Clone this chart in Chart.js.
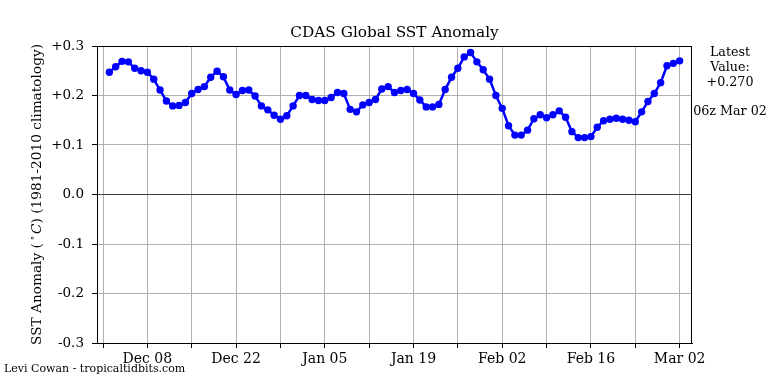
<!DOCTYPE html>
<html>
<head>
<meta charset="utf-8">
<script src="https://cdn.jsdelivr.net/npm/chart.js@4/dist/chart.umd.min.js"></script>
<style>
  html, body { margin: 0; padding: 0; background: #fff; }
</style>
</head>
<body>
<canvas id="sstChart" width="768" height="384"></canvas>
<script>
// daily values, 00z Dec 02 .. Mar 02
const dates = [
  "Dec 02", "Dec 03", "Dec 04", "Dec 05", "Dec 06", "Dec 07", "Dec 08", "Dec 09", "Dec 10", "Dec 11",
  "Dec 12", "Dec 13", "Dec 14", "Dec 15", "Dec 16", "Dec 17", "Dec 18", "Dec 19", "Dec 20", "Dec 21",
  "Dec 22", "Dec 23", "Dec 24", "Dec 25", "Dec 26", "Dec 27", "Dec 28", "Dec 29", "Dec 30", "Dec 31",
  "Jan 01", "Jan 02", "Jan 03", "Jan 04", "Jan 05", "Jan 06", "Jan 07", "Jan 08", "Jan 09", "Jan 10",
  "Jan 11", "Jan 12", "Jan 13", "Jan 14", "Jan 15", "Jan 16", "Jan 17", "Jan 18", "Jan 19", "Jan 20",
  "Jan 21", "Jan 22", "Jan 23", "Jan 24", "Jan 25", "Jan 26", "Jan 27", "Jan 28", "Jan 29", "Jan 30",
  "Jan 31", "Feb 01", "Feb 02", "Feb 03", "Feb 04", "Feb 05", "Feb 06", "Feb 07", "Feb 08", "Feb 09",
  "Feb 10", "Feb 11", "Feb 12", "Feb 13", "Feb 14", "Feb 15", "Feb 16", "Feb 17", "Feb 18", "Feb 19",
  "Feb 20", "Feb 21", "Feb 22", "Feb 23", "Feb 24", "Feb 25", "Feb 26", "Feb 27", "Feb 28", "Mar 01",
  "Mar 02",
];
const anomaly = [
  0.247, 0.258, 0.269, 0.268, 0.255, 0.250, 0.247, 0.233, 0.211, 0.189,
  0.179, 0.180, 0.186, 0.204, 0.212, 0.218, 0.237, 0.249, 0.238, 0.211,
  0.202, 0.210, 0.211, 0.199, 0.179, 0.171, 0.160, 0.152, 0.159, 0.179,
  0.200, 0.200, 0.192, 0.190, 0.190, 0.196, 0.206, 0.204, 0.172, 0.167,
  0.181, 0.186, 0.192, 0.213, 0.218, 0.206, 0.210, 0.212, 0.204, 0.191,
  0.177, 0.177, 0.182, 0.212, 0.237, 0.255, 0.278, 0.287, 0.268, 0.252,
  0.233, 0.200, 0.174, 0.139, 0.120, 0.120, 0.130, 0.153, 0.161, 0.155,
  0.161, 0.169, 0.156, 0.127, 0.115, 0.115, 0.117, 0.136, 0.149, 0.152,
  0.154, 0.152, 0.150, 0.147, 0.167, 0.188, 0.204, 0.226, 0.260, 0.265,
  0.270,
];
// x ticks in days from Dec 08
const tickDays = [-7, 0, 7, 14, 21, 28, 35, 42, 49, 56, 63, 70, 77, 84];
const tickLabels = ["", "Dec 08", "", "Dec 22", "", "Jan 05", "", "Jan 19", "", "Feb 02", "", "Feb 16", "", "Mar 02"];
const yTicks = [-0.3, -0.2, -0.1, 0, 0.1, 0.2, 0.3];
const yTickLabels = ["-0.3", "-0.2", "-0.1", "0.0", "+0.1", "+0.2", "+0.3"];

const latestLines = ["Latest", "Value:", "+0.270"];
const latestTime = "06z Mar 02";

const SERIF = '"DejaVu Serif", serif';
const day0 = dates.indexOf("Dec 08");
const points = anomaly.map((v, i) => ({ x: i - day0, y: v }));

const extras = {
  id: "extras",
  afterDraw(chart) {
    const { ctx, chartArea: a } = chart;
    ctx.save();
    // frame (all four spines)
    ctx.strokeStyle = "#000";
    ctx.lineWidth = 1;
    ctx.strokeRect(a.left + 0.5, a.top + 0.5, a.right - a.left - 1, a.bottom - a.top);

    ctx.fillStyle = "#000";
    ctx.textBaseline = "middle";

    // title
    ctx.font = "15.3px " + SERIF;
    ctx.textAlign = "center";
    ctx.fillText("CDAS Global SST Anomaly", (a.left + a.right) / 2, 33);

    // latest value box
    ctx.font = "12.7px " + SERIF;
    latestLines.forEach((t, i) => ctx.fillText(t, 730, 53 + i * 15));
    ctx.fillText(latestTime, 730, 112);

    // credit
    ctx.font = "11px " + SERIF;
    ctx.textAlign = "left";
    ctx.fillText("Levi Cowan - tropicaltidbits.com", 4, 369);

    // y title, with superscript degree and italic C
    const parts = [
      { t: "SST Anomaly (", f: "13.7px " + SERIF, dy: 0 },
      { t: " \u2218", f: "9px " + SERIF, dy: -4 },
      { t: " ", f: "6px " + SERIF, dy: 0 },
      { t: "C", f: "italic 13.7px " + SERIF, dy: 0 },
      { t: ") (1981-2010 climatology)", f: "13.7px " + SERIF, dy: 0 },
    ];
    let total = 0;
    parts.forEach(p => { ctx.font = p.f; p.w = ctx.measureText(p.t).width; total += p.w; });
    ctx.translate(37, (a.top + a.bottom) / 2);
    ctx.rotate(-Math.PI / 2);
    let x = -total / 2;
    parts.forEach(p => { ctx.font = p.f; ctx.fillText(p.t, x, p.dy); x += p.w; });
    ctx.restore();
  },
};

const ctx = document.getElementById("sstChart").getContext("2d");
const sstChart = new Chart(ctx, {
  type: "line",
  data: {
    datasets: [
      {
        data: points,
        borderColor: "#0000ff",
        backgroundColor: "#0000ff",
        borderWidth: 2.5,
        pointRadius: 3.7,
        pointBorderWidth: 0,
        tension: 0,
      },
    ],
  },
  options: {
    responsive: false,
    animation: false,
    devicePixelRatio: 1,
    layout: { padding: { left: 0, right: 76, top: 46, bottom: 0 } },
    plugins: {
      legend: { display: false },
      tooltip: { enabled: false },
    },
    scales: {
      x: {
        type: "linear",
        min: -7.95,
        max: 85.95,
        afterBuildTicks: (s) => { s.ticks = tickDays.map(v => ({ value: v })); },
        afterFit: (s) => { s.height = 41; },
        ticks: {
          autoSkip: false,
          maxRotation: 0,
          padding: 3,
          color: "#000",
          font: { family: SERIF, size: 14 },
          callback: (v) => tickLabels[tickDays.indexOf(v)],
        },
        grid: { color: "#b0b0b0", lineWidth: 1, tickLength: 5, tickColor: "#000" },
        border: { color: "#000", width: 1 },
      },
      y: {
        min: -0.3,
        max: 0.3,
        afterBuildTicks: (s) => { s.ticks = yTicks.map(v => ({ value: v })); },
        afterFit: (s) => { s.width = 97; },
        ticks: {
          padding: 8,
          color: "#000",
          font: { family: SERIF, size: 13.5 },
          callback: (v) => yTickLabels[yTicks.indexOf(v)],
        },
        grid: {
          color: (c) => (c.tick && c.tick.value === 0 ? "#404040" : "#b0b0b0"),
          lineWidth: 1,
          tickLength: 5,
          tickColor: "#000",
        },
        border: { color: "#000", width: 1 },
      },
    },
  },
  plugins: [extras],
});
</script>
</body>
</html>
